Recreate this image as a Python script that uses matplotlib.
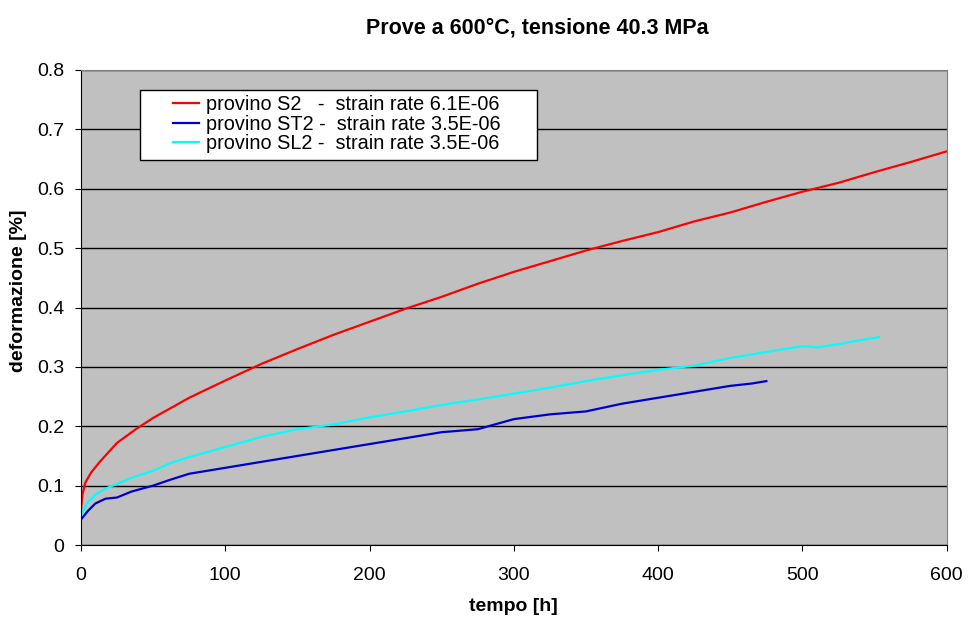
import matplotlib.pyplot as plt
from matplotlib.patches import Rectangle

plt.rcParams['font.family'] = ['Liberation Sans', 'DejaVu Sans']

# ---- data ----
t_s2 = [0, 1, 3, 7, 13, 25, 38, 50, 75, 100, 125, 150, 175, 200, 225, 250,
        275, 300, 325, 350, 375, 400, 425, 450, 475, 500, 525, 550, 575, 600]
d_s2 = [0.06, 0.085, 0.105, 0.122, 0.14, 0.172, 0.195, 0.214, 0.248, 0.277,
        0.305, 0.33, 0.354, 0.376, 0.398, 0.418, 0.44, 0.46, 0.478, 0.496,
        0.512, 0.527, 0.545, 0.56, 0.578, 0.595, 0.61, 0.628, 0.645, 0.663]

t_st2 = [0, 5, 10, 17, 25, 35, 50, 62, 75, 100, 125, 150, 175, 200, 225,
         250, 275, 300, 325, 350, 375, 400, 425, 450, 465, 475]
d_st2 = [0.043, 0.058, 0.07, 0.078, 0.08, 0.09, 0.1, 0.11, 0.12, 0.13, 0.14,
         0.15, 0.16, 0.17, 0.18, 0.19, 0.195, 0.212, 0.22, 0.225, 0.238,
         0.248, 0.258, 0.268, 0.272, 0.276]

t_sl2 = [0, 4, 10, 17, 25, 37, 50, 62, 75, 100, 125, 150, 175, 200, 225,
         250, 275, 300, 325, 350, 375, 400, 425, 450, 475, 500, 510, 525, 540, 553]
d_sl2 = [0.05, 0.07, 0.085, 0.095, 0.103, 0.115, 0.125, 0.138, 0.148, 0.165,
         0.182, 0.195, 0.203, 0.215, 0.225, 0.236, 0.245, 0.255, 0.265, 0.276,
         0.286, 0.295, 0.302, 0.315, 0.325, 0.335, 0.333, 0.338, 0.345, 0.35]

labels = ["provino S2   -  strain rate 6.1E-06",
          "provino ST2 -  strain rate 3.5E-06",
          "provino SL2 -  strain rate 3.5E-06"]
colors = ["#FF0000", "#0000CC", "#00FFFF"]

# ---- plot ----
fig = plt.figure(figsize=(9.7, 6.25), dpi=100)
ax = fig.add_axes([0.0835, 0.128, 0.8925, 0.76])
ax.set_facecolor("#C0C0C0")

ax.plot(t_s2, d_s2, color=colors[0], lw=1.6, label=labels[0])
ax.plot(t_st2, d_st2, color=colors[1], lw=1.6, label=labels[1])
ax.plot(t_sl2, d_sl2, color=colors[2], lw=1.6, label=labels[2])

ax.set_xlim(0, 600)
ax.set_ylim(0, 0.8)
ax.set_xticks(range(0, 601, 100))
ax.set_yticks([i / 10 for i in range(9)])
ax.set_yticklabels(["0"] + [f"{i/10:.1f}" for i in range(1, 9)])
ax.yaxis.grid(True, color="black", lw=1)
ax.set_axisbelow(True)
ax.tick_params(labelsize=14, direction="out", length=4, color="black")
ax.tick_params(axis="x", pad=12)
ax.tick_params(axis="y", pad=8)

for s in ["top", "right"]:
    ax.spines[s].set_color("#808080")
for s in ["left", "bottom"]:
    ax.spines[s].set_color("black")

ax.set_xlabel("tempo [h]", fontsize=14, fontweight="bold", labelpad=10)
ax.set_ylabel("deformazione [%]", fontsize=14, fontweight="bold")
ax.yaxis.set_label_coords(-0.062, 0.535)
fig.text(0.554, 0.955, "Prove a 600°C, tensione 40.3 MPa", ha="center",
         va="center", fontsize=15.5, fontweight="bold")

# legend box (Excel style, wide side padding)
ax.add_patch(Rectangle((0.0681, 0.8105), 0.4585, 0.1474, transform=ax.transAxes,
                       facecolor="white", edgecolor="black", lw=1, zorder=4))
leg = ax.legend(loc="upper left", bbox_to_anchor=(0.1062, 0.947), fontsize=14.3,
                frameon=False, handlelength=1.3, handletextpad=0.35,
                borderpad=0, borderaxespad=0, labelspacing=0.03)
leg.set_zorder(5)

fig.savefig("out.png", dpi=100)
